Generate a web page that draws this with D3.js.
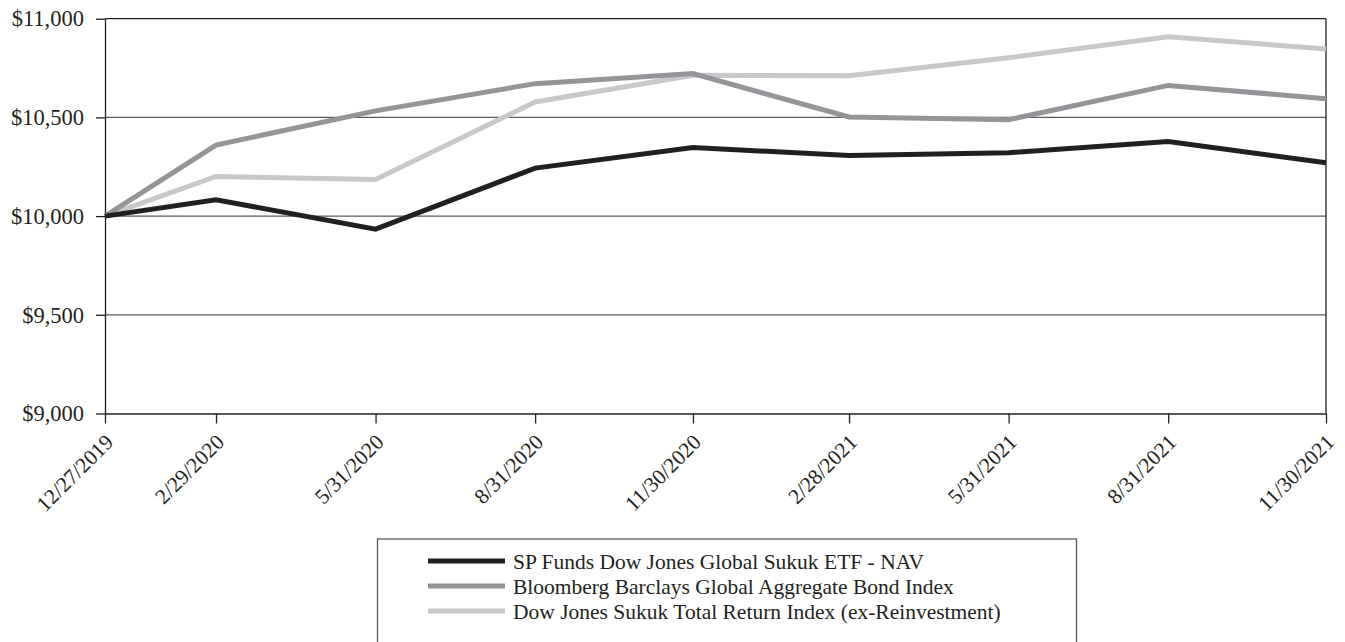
<!DOCTYPE html>
<html>
<head>
<meta charset="utf-8">
<script src="https://cdn.jsdelivr.net/npm/d3@7"></script>
<style>
  html, body { margin: 0; padding: 0; background: #fff; }
  svg { display: block; font-family: "Liberation Serif", "Times New Roman", serif; }
</style>
</head>
<body>
<svg id="chart" width="1345" height="642"></svg>
<script>
// ---- data ----
const dates = ["12/27/2019","2/29/2020","5/31/2020","8/31/2020","11/30/2020","2/28/2021","5/31/2021","8/31/2021","11/30/2021"];
const seriesNames = [
  "SP Funds Dow Jones Global Sukuk ETF - NAV",
  "Bloomberg Barclays Global Aggregate Bond Index",
  "Dow Jones Sukuk Total Return Index (ex-Reinvestment)"
];
const spFundsNAV   = [10000, 10083, 9934, 10243, 10347, 10307, 10321, 10378, 10270];
const bloombergAgg = [10000, 10360, 10533, 10671, 10722, 10502, 10488, 10662, 10595];
const djSukukTR    = [10000, 10201, 10186, 10578, 10713, 10711, 10802, 10909, 10846];
const yTicks = [9000, 9500, 10000, 10500, 11000];

(function () {
const svg = d3.select("#chart");
const parse = d3.timeParse("%m/%d/%Y");
const xDates = dates.map(parse);
const pL = 105, pR = 1326, pT = 18.7, pB = 413.5;

const x = d3.scaleTime().domain(d3.extent(xDates)).range([pL, pR]);
const y = d3.scaleLinear().domain([9000, 11000]).range([pB, pT]);

const colors = ["#231f20", "#939598", "#c7c8ca"];
const allSeries = [spFundsNAV, bloombergAgg, djSukukTR];

// gridlines
svg.append("g").selectAll("line").data(yTicks.filter(v => v > 9000 && v < 11000)).join("line")
  .attr("x1", pL).attr("x2", pR)
  .attr("y1", d => y(d)).attr("y2", d => y(d))
  .attr("stroke", "#58595b").attr("stroke-width", 1.3);

// top & right border
svg.append("line").attr("x1", pL).attr("x2", pR).attr("y1", y(11000)).attr("y2", y(11000))
  .attr("stroke", "#231f20").attr("stroke-width", 1.3);
svg.append("line").attr("x1", pR).attr("x2", pR).attr("y1", y(11000)).attr("y2", y(9000))
  .attr("stroke", "#231f20").attr("stroke-width", 1.3);

// y axis
const yAxis = d3.axisLeft(y).tickValues(yTicks).tickSize(9).tickSizeOuter(0).tickPadding(12)
  .tickFormat(d => "$" + d3.format(",")(d));
const gy = svg.append("g").attr("transform", `translate(${pL},0)`).call(yAxis);
gy.select(".domain").attr("stroke", "#231f20").attr("stroke-width", 1.3);
gy.selectAll(".tick line").attr("stroke", "#231f20").attr("stroke-width", 1.3);
gy.selectAll("text").attr("font-size", 22.5).attr("fill", "#231f20")
  .attr("font-family", "Liberation Serif");

// x axis
const xAxis = d3.axisBottom(x).tickValues(xDates).tickSize(10).tickSizeOuter(0)
  .tickFormat((d, i) => dates[i]);
const gx = svg.append("g").attr("transform", `translate(0,${pB})`).call(xAxis);
gx.select(".domain").attr("stroke", "#231f20").attr("stroke-width", 1.3);
gx.selectAll(".tick line").attr("stroke", "#231f20").attr("stroke-width", 1.3);
gx.selectAll("text")
  .attr("font-size", 21.5).attr("fill", "#231f20").attr("font-family", "Liberation Serif")
  .attr("text-anchor", "end")
  .attr("transform", "translate(9,30) rotate(-45)")
  .attr("dy", 0).attr("y", 0).attr("x", 0);

// lines (light first, black on top)
const line = d3.line().x((d, i) => x(xDates[i])).y(d => y(d));
const order = [2, 1, 0];
svg.append("g").selectAll("path").data(order).join("path")
  .attr("d", i => line(allSeries[i]))
  .attr("fill", "none")
  .attr("stroke", i => colors[i])
  .attr("stroke-width", 5)
  .attr("stroke-linejoin", "miter");

// legend
const lg = svg.append("g");
lg.append("rect").attr("x", 377.5).attr("y", 539).attr("width", 699).attr("height", 120)
  .attr("fill", "none").attr("stroke", "#58595b").attr("stroke-width", 1.3);
const rows = lg.selectAll("g.row").data(seriesNames).join("g").attr("class", "row")
  .attr("transform", (d, i) => `translate(428,${561 + i * 25})`);
rows.append("line").attr("x1", 0).attr("x2", 77).attr("y1", 0).attr("y2", 0)
  .attr("stroke", (d, i) => colors[i]).attr("stroke-width", 5);
rows.append("text").attr("x", 85).attr("y", 0).attr("dy", "0.35em")
  .attr("font-size", 21.5).attr("fill", "#231f20").text(d => d);
})();
</script>
</body>
</html>
